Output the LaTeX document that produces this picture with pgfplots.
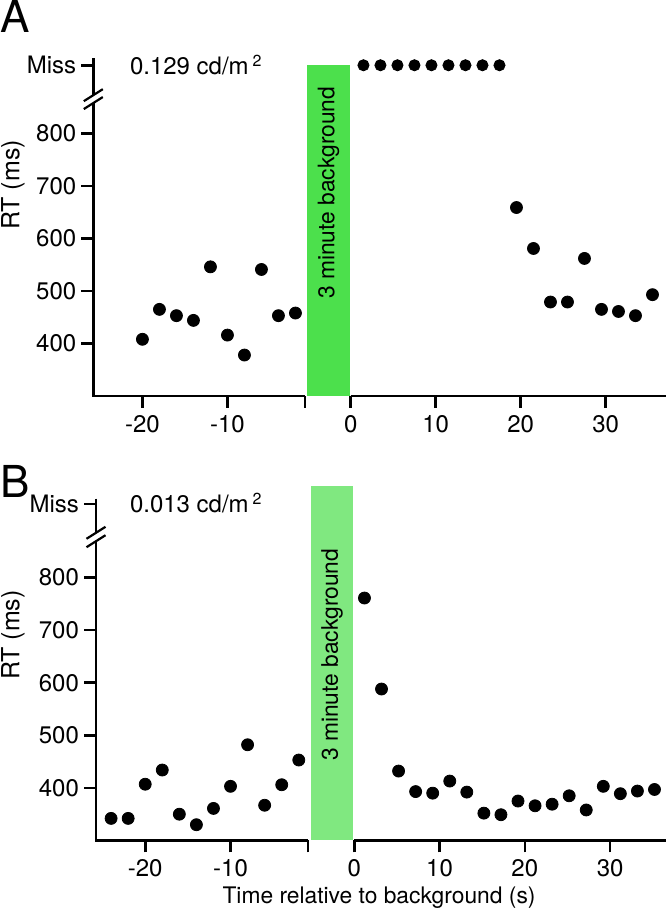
\documentclass[border=0pt]{standalone}
\usepackage{fontspec}
\setmainfont{TeX Gyre Heros}
\usepackage{pgfplots}
\pgfplotsset{compat=1.18}
\usepackage{pgfplotstable}
\definecolor{gA}{RGB}{76,224,76}
\definecolor{gB}{RGB}{128,232,128}
\newcommand\fs{\fontsize{11.4}{13.5}\selectfont}
\newcommand\ft{\fontsize{12}{14}\selectfont}

% Panel A (0.129 cd/m^2)
\pgfplotstableread{
t rt
-20 408
-18 465
-16 453
-14 444
-12 546
-10 416
-8 378
-6 541
-4 453
-2 458
}\topleft
\pgfplotstableread{
t rt
1.5 930
3.5 930
5.5 930
7.5 930
9.5 930
11.5 930
13.5 930
15.5 930
17.5 930
}\topmiss
\pgfplotstableread{
t rt
19.5 659
21.5 581
23.5 479
25.5 479
27.5 562
29.5 465
31.5 461
33.5 453
35.5 493
}\topright

% Panel B (0.013 cd/m^2)
\pgfplotstableread{
t rt
-24 342
-22 342
-20 407
-18 434
-16 350
-14 330
-12 361
-10 403
-8 482
-6 367
-4 406
-2 453
}\botleft
\pgfplotstableread{
t rt
1.2 761
3.2 588
5.2 432
7.2 393
9.2 390
11.2 413
13.2 392
15.2 352
17.2 349
19.2 375
21.2 366
23.2 369
25.2 385
27.2 358
29.2 403
31.2 389
33.2 394
35.2 397
}\botright

\pgfplotsset{panel/.style={
  scale only axis, clip=false,
  axis lines*=left, axis line style={draw=none},
  tick align=outside, major tick length=6pt,
  tick style={black, line width=1.3pt},
  ticklabel style={font=\ft},
  yticklabel style={xshift=1pt},
  minor tick num=0,
}, dots/.style={only marks, mark=*, mark size=3pt, black, mark options={fill=black, draw=black}}}

\begin{document}
\begin{tikzpicture}
\useasboundingbox (0,0) rectangle (333pt,456.5pt);

% ---------------- Panel A ----------------
\begin{axis}[panel, at={(46.65pt,258.5pt)}, anchor=south west,
  width=286.35pt, height=169.3pt,
  xmin=-30.28, xmax=37.09, ymin=300, ymax=945,
  xtick={-24.5,-14.5,-5.4,0,10,20,30},
  xticklabels={-20,-10,{},0,10,20,30},
  ytick={400,500,600,700,800,930},
  yticklabels={400,500,600,700,800,Miss}]
\fill[gA] (axis cs:-5.1,300) rectangle (axis cs:-0.1,930);
\node[rotate=90, font=\fs] at (axis cs:-2.6,687) {3 minute background};
\addplot[dots] table[x expr=\thisrow{t}-4.5, y=rt] {\topleft};
\addplot[dots, mark size=2.8pt] table[x=t, y=rt] {\topmiss};
\addplot[dots] table[x=t, y=rt] {\topright};
\draw[line width=1.3pt] (axis cs:-30.28,943) -- (axis cs:-30.28,873);
\draw[line width=1.3pt] (axis cs:-30.28,858) -- (axis cs:-30.28,300) -- (axis cs:-5.4,300);
\draw[line width=1.3pt] (axis cs:0,300) -- (axis cs:37.09,300);
\draw[line width=1.1pt] (axis cs:-30.28,873) ++(-4.75pt,-3pt) -- ++(9.5pt,6pt);
\draw[line width=1.1pt] (axis cs:-30.28,858) ++(-4.75pt,-3pt) -- ++(9.5pt,6pt);
\end{axis}

% ---------------- Panel B ----------------
\begin{axis}[panel, at={(48pt,36.25pt)}, anchor=south west,
  width=285pt, height=178.84pt,
  xmin=-30.27, xmax=36.55, ymin=300, ymax=980,
  xtick={-24.5,-14.5,-5.4,0,10,20,30},
  xticklabels={-20,-10,{},0,10,20,30},
  ytick={400,500,600,700,800,940},
  yticklabels={400,500,600,700,800,Miss}]
\fill[gB] (axis cs:-5.1,300) rectangle (axis cs:-0.1,974);
\node[rotate=90, font=\fs] at (axis cs:-2.6,653) {3 minute background};
\addplot[dots] table[x expr=\thisrow{t}-4.5, y=rt] {\botleft};
\addplot[dots] table[x=t, y=rt] {\botright};
\draw[line width=1.3pt] (axis cs:-30.27,950) -- (axis cs:-30.27,885);
\draw[line width=1.3pt] (axis cs:-30.27,869) -- (axis cs:-30.27,300) -- (axis cs:-5.4,300);
\draw[line width=1.3pt] (axis cs:0,300) -- (axis cs:36.55,300);
\draw[line width=1.1pt] (axis cs:-30.27,885) ++(-4.75pt,-3pt) -- ++(9.5pt,6pt);
\draw[line width=1.1pt] (axis cs:-30.27,869) ++(-4.75pt,-3pt) -- ++(9.5pt,6pt);
\end{axis}

% ---------------- Labels ----------------
\node[font=\fontsize{22}{24}\selectfont] at (7.75pt,448.5pt) {A};
\node[font=\fontsize{22}{24}\selectfont] at (7.5pt,216pt) {B};
\node[rotate=90, font=\fontsize{12.5}{14}\selectfont] at (6.5pt,364pt) {RT (ms)};
\node[rotate=90, font=\fontsize{12.5}{14}\selectfont] at (6.5pt,139pt) {RT (ms)};
\node[anchor=west, inner sep=0pt, font=\ft] at (64.8pt,424pt) {0.129 cd/m\,\textsuperscript{2}};
\node[anchor=west, inner sep=0pt, font=\ft] at (64.8pt,205pt) {0.013 cd/m\,\textsuperscript{2}};
\node[font=\fs] at (189.5pt,7.5pt) {Time relative to background (s)};
\end{tikzpicture}
\end{document}
